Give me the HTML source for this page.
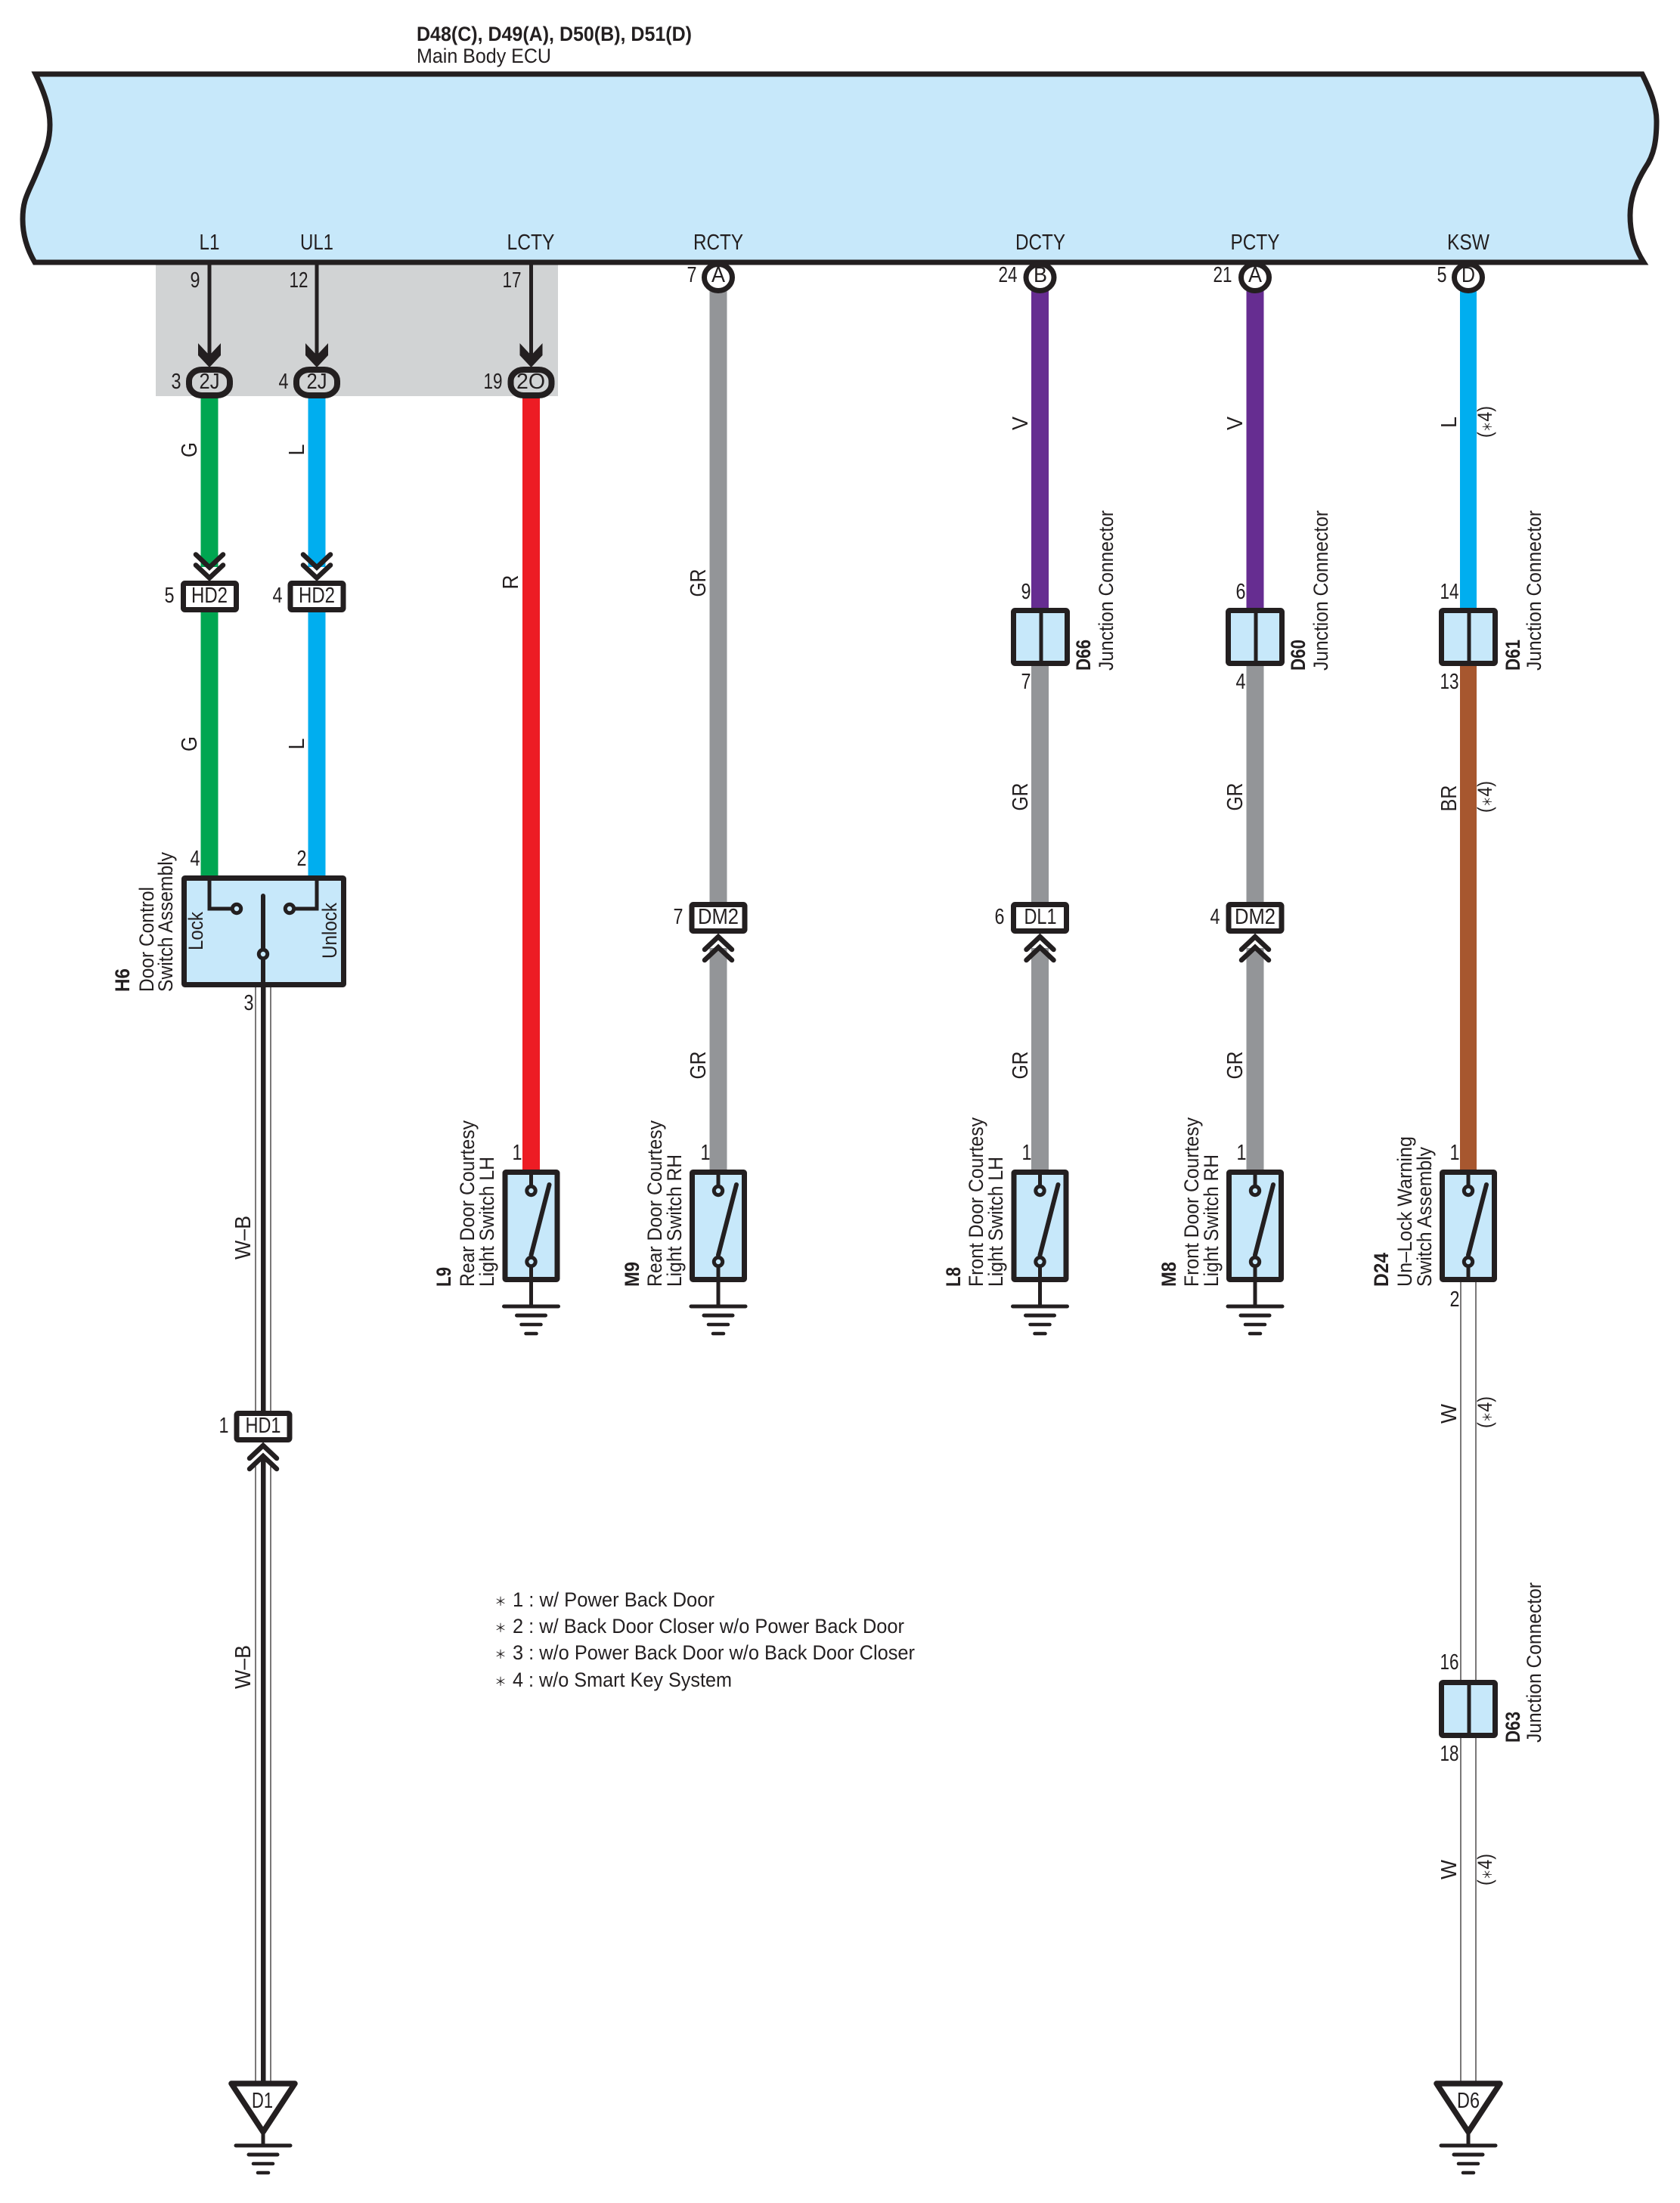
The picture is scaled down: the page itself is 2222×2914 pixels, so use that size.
<!DOCTYPE html>
<html><head><meta charset="utf-8"><title>Door Lock Wiring Diagram</title>
<style>
html,body{margin:0;padding:0;background:#fff}
svg{display:block}
text{font-family:"Liberation Sans","Noto Sans CJK JP",sans-serif;font-size:29px;fill:#231f20}
.m{text-anchor:middle}
.s{font-size:27px}
.b{font-weight:bold;font-size:27px}
.k{stroke:#231f20;fill:none}
</style></head><body>
<svg width="2222" height="2914" viewBox="0 0 2222 2914" xmlns="http://www.w3.org/2000/svg">
<defs>
<g id="box"><rect x="-35" y="-17.5" width="70" height="35" rx="2" fill="#fff" stroke="#231f20" stroke-width="7" stroke-linejoin="round"/></g>
<g id="chev" fill="none" stroke="#231f20" stroke-width="6.5" stroke-linecap="round" stroke-linejoin="miter"><path d="M-18,21 L0,4 L18,21"/><path d="M-18,35 L0,18 L18,35"/></g>
<g id="arrow"><polygon points="-15,454 0,470 15,454 15,470 0,486 -15,470" fill="#231f20"/></g>
<g id="oval"><rect x="-27" y="489" width="54" height="34" rx="17" ry="15" fill="none" stroke="#231f20" stroke-width="8"/></g>
<g id="circ"><ellipse cx="0" cy="367" rx="18.5" ry="17.5" fill="#fff" stroke="#231f20" stroke-width="7"/></g>
<g id="junc"><rect x="-35.5" y="3.5" width="71" height="70" rx="2" fill="#c7e8fa" stroke="#231f20" stroke-width="7" stroke-linejoin="round"/><line x1="1" y1="3" x2="1" y2="74" stroke="#231f20" stroke-width="5"/></g>
<g id="sw"><rect x="-34.5" y="3.5" width="69" height="142" rx="1" fill="#c7e8fa" stroke="#231f20" stroke-width="7" stroke-linejoin="round"/>
<line x1="0" y1="3" x2="0" y2="28" stroke="#231f20" stroke-width="5"/>
<line x1="0" y1="122" x2="0" y2="146" stroke="#231f20" stroke-width="5"/>
<line x1="24" y1="20" x2="0" y2="113" stroke="#231f20" stroke-width="6" stroke-linecap="round"/>
<circle cx="0" cy="28" r="5.7" fill="#c7e8fa" stroke="#231f20" stroke-width="5"/>
<circle cx="0" cy="122" r="5.7" fill="#c7e8fa" stroke="#231f20" stroke-width="5"/></g>
<g id="gnd" stroke="#231f20" stroke-linecap="round" fill="none"><line x1="-36" y1="0" x2="36" y2="0" stroke-width="5"/><line x1="-19" y1="12" x2="19" y2="12" stroke-width="5"/><line x1="-13" y1="24" x2="13" y2="24" stroke-width="4.5"/><line x1="-7" y1="36" x2="7" y2="36" stroke-width="4.5"/></g>
<g id="tri"><path d="M306,2756 L390,2756 L348,2820 Z" fill="#fff" stroke="#231f20" stroke-width="7.5" stroke-linejoin="round"/><line x1="348" y1="2820" x2="348" y2="2838" stroke="#231f20" stroke-width="5"/></g>
</defs>

<rect width="2222" height="2914" fill="#fff"/>
<rect x="206" y="350" width="532" height="174" fill="#d1d3d4"/>
<path d="M47,98 C60,125 66,145 66,165 C66,190 58,205 50,225 C38,255 30,262 30,290 C30,310 36,330 46,347 L2174,347 C2160,325 2156,305 2156,285 C2156,260 2165,240 2176,222 C2188,205 2191,185 2191,160 C2191,140 2183,120 2172,98 Z" fill="#c7e8fa" stroke="#231f20" stroke-width="7" stroke-linejoin="miter"/>

<!-- colored wires -->
<rect x="265.500" y="525" width="23" height="225" fill="#00a651"/>
<rect x="265.500" y="806" width="23" height="352" fill="#00a651"/>
<rect x="407.500" y="525" width="23" height="225" fill="#00aeef"/>
<rect x="407.500" y="806" width="23" height="352" fill="#00aeef"/>
<rect x="691" y="525" width="23" height="1023" fill="#ed1c24"/>
<rect x="938.500" y="385" width="23" height="810" fill="#939598"/>
<rect x="938.500" y="1254" width="23" height="294" fill="#939598"/>
<rect x="1364" y="385" width="23" height="420" fill="#662d91"/>
<rect x="1364" y="880" width="23" height="315" fill="#939598"/>
<rect x="1364" y="1254" width="23" height="294" fill="#939598"/>
<rect x="1648.500" y="385" width="23" height="420" fill="#662d91"/>
<rect x="1648.500" y="880" width="23" height="315" fill="#939598"/>
<rect x="1648.500" y="1254" width="23" height="294" fill="#939598"/>
<rect x="1931" y="385" width="22" height="420" fill="#00aeef"/>
<rect x="1931" y="880" width="22" height="668" fill="#a7572f"/>

<!-- thin W-B wire -->
<g stroke="#231f20" stroke-width="1.2">
<line x1="338" y1="1306" x2="338" y2="1866"/><line x1="358" y1="1306" x2="358" y2="1866"/>
<line x1="338" y1="1938" x2="338" y2="2754"/><line x1="358" y1="1938" x2="358" y2="2754"/>
<line x1="1932" y1="1696" x2="1932" y2="2222"/><line x1="1952" y1="1696" x2="1952" y2="2222"/>
<line x1="1932" y1="2298" x2="1932" y2="2756"/><line x1="1952" y1="2298" x2="1952" y2="2756"/>
</g>
<rect x="345" y="1306" width="6.500" height="560" fill="#231f20"/>
<rect x="345" y="1925" width="6.500" height="830" fill="#231f20"/>

<!-- ECU thin connections -->
<g stroke="#231f20" stroke-width="5">
<line x1="277" y1="350" x2="277" y2="470"/><line x1="419" y1="350" x2="419" y2="470"/><line x1="702.500" y1="350" x2="702.500" y2="470"/>
</g>
<use href="#arrow" x="277"/><use href="#arrow" x="419"/><use href="#arrow" x="702.500"/>
<use href="#oval" x="277"/><use href="#oval" x="419"/><use href="#oval" x="702.500"/>
<use href="#circ" x="950"/><use href="#circ" x="1375.500"/><use href="#circ" x="1660"/><use href="#circ" x="1942"/>

<!-- inline connectors -->
<use href="#box" x="277.500" y="789"/><use href="#box" x="419" y="789"/>
<g transform="translate(277 768.500) scale(1 -1)"><use href="#chev"/></g>
<g transform="translate(419 768.500) scale(1 -1)"><use href="#chev"/></g>
<use href="#box" x="348" y="1887"/><use href="#chev" x="348" y="1908"/>
<use href="#box" x="950" y="1214"/><use href="#chev" x="950" y="1235"/>
<use href="#box" x="1375.500" y="1214"/><use href="#chev" x="1375.500" y="1235"/>
<use href="#box" x="1660" y="1214"/><use href="#chev" x="1660" y="1235"/>

<!-- junctions -->
<use href="#junc" x="1376" y="804"/><use href="#junc" x="1660" y="804"/><use href="#junc" x="1942" y="804"/><use href="#junc" x="1942" y="2222"/>

<!-- H6 switch -->
<rect x="243.500" y="1161.500" width="211" height="141" rx="1" fill="#c7e8fa" stroke="#231f20" stroke-width="7" stroke-linejoin="round"/>
<path d="M277,1160 L277,1202 L307,1202 M419,1160 L419,1202 L389,1202" class="k" stroke-width="5"/>
<line x1="348" y1="1185" x2="348" y2="1306" stroke="#231f20" stroke-width="6" stroke-linecap="round"/>
<circle cx="313" cy="1202" r="5.700" fill="#c7e8fa" stroke="#231f20" stroke-width="5"/>
<circle cx="383" cy="1202" r="5.700" fill="#c7e8fa" stroke="#231f20" stroke-width="5"/>
<circle cx="348" cy="1262" r="5.700" fill="#c7e8fa" stroke="#231f20" stroke-width="5"/>

<!-- courtesy switches -->
<use href="#sw" x="702.500" y="1547"/><line x1="702.500" y1="1696" x2="702.500" y2="1728" stroke="#231f20" stroke-width="5"/><use href="#gnd" x="702.500" y="1728"/>
<use href="#sw" x="950" y="1547"/><line x1="950" y1="1696" x2="950" y2="1728" stroke="#231f20" stroke-width="5"/><use href="#gnd" x="950" y="1728"/>
<use href="#sw" x="1375.500" y="1547"/><line x1="1375.500" y1="1696" x2="1375.500" y2="1728" stroke="#231f20" stroke-width="5"/><use href="#gnd" x="1375.500" y="1728"/>
<use href="#sw" x="1660" y="1547"/><line x1="1660" y1="1696" x2="1660" y2="1728" stroke="#231f20" stroke-width="5"/><use href="#gnd" x="1660" y="1728"/>
<use href="#sw" x="1942" y="1547"/>

<!-- grounds -->
<use href="#tri"/><use href="#gnd" x="348" y="2838"/>
<g transform="translate(1594 0)"><use href="#tri"/></g><use href="#gnd" x="1942" y="2838"/>

<!-- header -->
<text x="551" y="54" class="b" textLength="364" lengthAdjust="spacingAndGlyphs">D48(C), D49(A), D50(B), D51(D)</text>
<text x="551" y="83" class="s" textLength="178" lengthAdjust="spacingAndGlyphs">Main Body ECU</text>

<!-- ECU pin names -->
<text x="277" y="330" class="m" textLength="27" lengthAdjust="spacingAndGlyphs">L1</text>
<text x="419" y="330" class="m" textLength="44" lengthAdjust="spacingAndGlyphs">UL1</text>
<text x="702" y="330" class="m" textLength="63" lengthAdjust="spacingAndGlyphs">LCTY</text>
<text x="950" y="330" class="m" textLength="66" lengthAdjust="spacingAndGlyphs">RCTY</text>
<text x="1376" y="330" class="m" textLength="66" lengthAdjust="spacingAndGlyphs">DCTY</text>
<text x="1660" y="330" class="m" textLength="65" lengthAdjust="spacingAndGlyphs">PCTY</text>
<text x="1942" y="330" class="m" textLength="56" lengthAdjust="spacingAndGlyphs">KSW</text>

<!-- pin numbers -->
<text x="258" y="380" class="m" textLength="13" lengthAdjust="spacingAndGlyphs">9</text>
<text x="395" y="380" class="m" textLength="25" lengthAdjust="spacingAndGlyphs">12</text>
<text x="677" y="380" class="m" textLength="25" lengthAdjust="spacingAndGlyphs">17</text>
<text x="915" y="373" class="m" textLength="13" lengthAdjust="spacingAndGlyphs">7</text>
<text x="1333" y="373" class="m" textLength="25" lengthAdjust="spacingAndGlyphs">24</text>
<text x="1617" y="373" class="m" textLength="25" lengthAdjust="spacingAndGlyphs">21</text>
<text x="1907" y="373" class="m" textLength="13" lengthAdjust="spacingAndGlyphs">5</text>
<text x="233" y="514" class="m" textLength="13" lengthAdjust="spacingAndGlyphs">3</text>
<text x="375" y="514" class="m" textLength="13" lengthAdjust="spacingAndGlyphs">4</text>
<text x="652" y="514" class="m" textLength="25" lengthAdjust="spacingAndGlyphs">19</text>
<text x="277" y="514" class="m" textLength="27" lengthAdjust="spacingAndGlyphs">2J</text>
<text x="419" y="514" class="m" textLength="27" lengthAdjust="spacingAndGlyphs">2J</text>
<text x="702" y="514" class="m" textLength="38" lengthAdjust="spacingAndGlyphs">2O</text>
<text x="950" y="373" class="m" textLength="18" lengthAdjust="spacingAndGlyphs">A</text>
<text x="1376" y="373" class="m" textLength="18" lengthAdjust="spacingAndGlyphs">B</text>
<text x="1660" y="373" class="m" textLength="18" lengthAdjust="spacingAndGlyphs">A</text>
<text x="1942" y="373" class="m" textLength="18" lengthAdjust="spacingAndGlyphs">D</text>

<text x="224" y="797" class="m" textLength="13" lengthAdjust="spacingAndGlyphs">5</text>
<text x="367" y="797" class="m" textLength="13" lengthAdjust="spacingAndGlyphs">4</text>
<text x="277" y="797" class="m" textLength="48" lengthAdjust="spacingAndGlyphs">HD2</text>
<text x="419" y="797" class="m" textLength="48" lengthAdjust="spacingAndGlyphs">HD2</text>
<text x="296" y="1895" class="m" textLength="13" lengthAdjust="spacingAndGlyphs">1</text>
<text x="348" y="1895" class="m" textLength="47" lengthAdjust="spacingAndGlyphs">HD1</text>
<text x="897" y="1222" class="m" textLength="13" lengthAdjust="spacingAndGlyphs">7</text>
<text x="950" y="1222" class="m" textLength="54" lengthAdjust="spacingAndGlyphs">DM2</text>
<text x="1322" y="1222" class="m" textLength="13" lengthAdjust="spacingAndGlyphs">6</text>
<text x="1376" y="1222" class="m" textLength="43" lengthAdjust="spacingAndGlyphs">DL1</text>
<text x="1607" y="1222" class="m" textLength="13" lengthAdjust="spacingAndGlyphs">4</text>
<text x="1660" y="1222" class="m" textLength="54" lengthAdjust="spacingAndGlyphs">DM2</text>

<text x="1357" y="792" class="m" textLength="13" lengthAdjust="spacingAndGlyphs">9</text>
<text x="1357" y="911" class="m" textLength="13" lengthAdjust="spacingAndGlyphs">7</text>
<text x="1641" y="792" class="m" textLength="13" lengthAdjust="spacingAndGlyphs">6</text>
<text x="1641" y="911" class="m" textLength="13" lengthAdjust="spacingAndGlyphs">4</text>
<text x="1917" y="792" class="m" textLength="25" lengthAdjust="spacingAndGlyphs">14</text>
<text x="1917" y="911" class="m" textLength="25" lengthAdjust="spacingAndGlyphs">13</text>
<text x="1917" y="2208" class="m" textLength="25" lengthAdjust="spacingAndGlyphs">16</text>
<text x="1917" y="2329" class="m" textLength="25" lengthAdjust="spacingAndGlyphs">18</text>

<text x="258" y="1145" class="m" textLength="13" lengthAdjust="spacingAndGlyphs">4</text>
<text x="399" y="1145" class="m" textLength="13" lengthAdjust="spacingAndGlyphs">2</text>
<text x="329" y="1336" class="m" textLength="13" lengthAdjust="spacingAndGlyphs">3</text>
<text x="684" y="1534" class="m" textLength="13" lengthAdjust="spacingAndGlyphs">1</text>
<text x="933" y="1534" class="m" textLength="13" lengthAdjust="spacingAndGlyphs">1</text>
<text x="1358" y="1534" class="m" textLength="13" lengthAdjust="spacingAndGlyphs">1</text>
<text x="1642" y="1534" class="m" textLength="13" lengthAdjust="spacingAndGlyphs">1</text>
<text x="1924" y="1534" class="m" textLength="13" lengthAdjust="spacingAndGlyphs">1</text>
<text x="1924" y="1728" class="m" textLength="13" lengthAdjust="spacingAndGlyphs">2</text>

<!-- ground labels -->
<text x="347" y="2788" class="m" textLength="28" lengthAdjust="spacingAndGlyphs">D1</text>
<text x="1942" y="2788" class="m" textLength="30" lengthAdjust="spacingAndGlyphs">D6</text>

<!-- H6 labels -->
<text transform="translate(171 1312) rotate(-90)" class="b" textLength="31" lengthAdjust="spacingAndGlyphs">H6</text>
<text transform="translate(203 1312) rotate(-90)" class="s" textLength="139" lengthAdjust="spacingAndGlyphs">Door Control</text>
<text transform="translate(228 1312) rotate(-90)" class="s" textLength="185" lengthAdjust="spacingAndGlyphs">Switch Assembly</text>
<text transform="translate(268 1257) rotate(-90)" class="s" textLength="51" lengthAdjust="spacingAndGlyphs">Lock</text>
<text transform="translate(445 1268) rotate(-90)" class="s" textLength="74" lengthAdjust="spacingAndGlyphs">Unlock</text>

<!-- switch labels -->
<text transform="translate(596 1702) rotate(-90)" class="b" textLength="26" lengthAdjust="spacingAndGlyphs">L9</text>
<text transform="translate(627 1702) rotate(-90)" class="s" textLength="220" lengthAdjust="spacingAndGlyphs">Rear Door Courtesy</text>
<text transform="translate(653 1702) rotate(-90)" class="s" textLength="172" lengthAdjust="spacingAndGlyphs">Light Switch LH</text>
<text transform="translate(845 1702) rotate(-90)" class="b" textLength="33" lengthAdjust="spacingAndGlyphs">M9</text>
<text transform="translate(875 1702) rotate(-90)" class="s" textLength="220" lengthAdjust="spacingAndGlyphs">Rear Door Courtesy</text>
<text transform="translate(901 1702) rotate(-90)" class="s" textLength="175" lengthAdjust="spacingAndGlyphs">Light Switch RH</text>
<text transform="translate(1270 1702) rotate(-90)" class="b" textLength="26" lengthAdjust="spacingAndGlyphs">L8</text>
<text transform="translate(1300 1702) rotate(-90)" class="s" textLength="224" lengthAdjust="spacingAndGlyphs">Front Door Courtesy</text>
<text transform="translate(1326 1702) rotate(-90)" class="s" textLength="172" lengthAdjust="spacingAndGlyphs">Light Switch LH</text>
<text transform="translate(1555 1702) rotate(-90)" class="b" textLength="33" lengthAdjust="spacingAndGlyphs">M8</text>
<text transform="translate(1585 1702) rotate(-90)" class="s" textLength="224" lengthAdjust="spacingAndGlyphs">Front Door Courtesy</text>
<text transform="translate(1611 1702) rotate(-90)" class="s" textLength="175" lengthAdjust="spacingAndGlyphs">Light Switch RH</text>
<text transform="translate(1836 1702) rotate(-90)" class="b" textLength="45" lengthAdjust="spacingAndGlyphs">D24</text>
<text transform="translate(1867 1702) rotate(-90)" class="s" textLength="199" lengthAdjust="spacingAndGlyphs">Un–Lock Warning</text>
<text transform="translate(1893 1702) rotate(-90)" class="s" textLength="185" lengthAdjust="spacingAndGlyphs">Switch Assembly</text>

<!-- junction labels -->
<text transform="translate(1442 887) rotate(-90)" class="b" textLength="41" lengthAdjust="spacingAndGlyphs">D66</text>
<text transform="translate(1472 887) rotate(-90)" class="s" textLength="212" lengthAdjust="spacingAndGlyphs">Junction Connector</text>
<text transform="translate(1726 887) rotate(-90)" class="b" textLength="41" lengthAdjust="spacingAndGlyphs">D60</text>
<text transform="translate(1756 887) rotate(-90)" class="s" textLength="212" lengthAdjust="spacingAndGlyphs">Junction Connector</text>
<text transform="translate(2010 887) rotate(-90)" class="b" textLength="41" lengthAdjust="spacingAndGlyphs">D61</text>
<text transform="translate(2038 887) rotate(-90)" class="s" textLength="212" lengthAdjust="spacingAndGlyphs">Junction Connector</text>
<text transform="translate(2010 2305) rotate(-90)" class="b" textLength="41" lengthAdjust="spacingAndGlyphs">D63</text>
<text transform="translate(2038 2305) rotate(-90)" class="s" textLength="212" lengthAdjust="spacingAndGlyphs">Junction Connector</text>

<!-- wire colour labels -->
<text transform="translate(260 595) rotate(-90)" class="m" textLength="20" lengthAdjust="spacingAndGlyphs">G</text>
<text transform="translate(260 984) rotate(-90)" class="m" textLength="20" lengthAdjust="spacingAndGlyphs">G</text>
<text transform="translate(402 595) rotate(-90)" class="m" textLength="15" lengthAdjust="spacingAndGlyphs">L</text>
<text transform="translate(402 984) rotate(-90)" class="m" textLength="15" lengthAdjust="spacingAndGlyphs">L</text>
<text transform="translate(685 770) rotate(-90)" class="m" textLength="19" lengthAdjust="spacingAndGlyphs">R</text>
<text transform="translate(933 771) rotate(-90)" class="m" textLength="37" lengthAdjust="spacingAndGlyphs">GR</text>
<text transform="translate(933 1409) rotate(-90)" class="m" textLength="37" lengthAdjust="spacingAndGlyphs">GR</text>
<text transform="translate(1359 560) rotate(-90)" class="m" textLength="18" lengthAdjust="spacingAndGlyphs">V</text>
<text transform="translate(1359 1054) rotate(-90)" class="m" textLength="37" lengthAdjust="spacingAndGlyphs">GR</text>
<text transform="translate(1359 1409) rotate(-90)" class="m" textLength="37" lengthAdjust="spacingAndGlyphs">GR</text>
<text transform="translate(1643 560) rotate(-90)" class="m" textLength="18" lengthAdjust="spacingAndGlyphs">V</text>
<text transform="translate(1643 1054) rotate(-90)" class="m" textLength="37" lengthAdjust="spacingAndGlyphs">GR</text>
<text transform="translate(1643 1409) rotate(-90)" class="m" textLength="37" lengthAdjust="spacingAndGlyphs">GR</text>
<text transform="translate(1926 558.500) rotate(-90)" class="m" textLength="15" lengthAdjust="spacingAndGlyphs">L</text>
<text transform="translate(1926 1056) rotate(-90)" class="m" textLength="35" lengthAdjust="spacingAndGlyphs">BR</text>
<text transform="translate(1926 1870) rotate(-90)" class="m" textLength="26" lengthAdjust="spacingAndGlyphs">W</text>
<text transform="translate(1926 2473) rotate(-90)" class="m" textLength="26" lengthAdjust="spacingAndGlyphs">W</text>
<text transform="translate(331 1637) rotate(-90)" class="m" textLength="58" lengthAdjust="spacingAndGlyphs">W–B</text>
<text transform="translate(331 2205) rotate(-90)" class="m" textLength="58" lengthAdjust="spacingAndGlyphs">W–B</text>
<text transform="translate(1973 558) rotate(-90)" class="m s" textLength="42" lengthAdjust="spacingAndGlyphs">(<tspan font-size="16">＊</tspan>4)</text>
<text transform="translate(1973 1054) rotate(-90)" class="m s" textLength="42" lengthAdjust="spacingAndGlyphs">(<tspan font-size="16">＊</tspan>4)</text>
<text transform="translate(1973 1868) rotate(-90)" class="m s" textLength="42" lengthAdjust="spacingAndGlyphs">(<tspan font-size="16">＊</tspan>4)</text>
<text transform="translate(1973 2473) rotate(-90)" class="m s" textLength="42" lengthAdjust="spacingAndGlyphs">(<tspan font-size="16">＊</tspan>4)</text>

<!-- legend -->
<text x="662" y="2124" class="m" style="font-size:16px">＊</text>
<text x="662" y="2159" class="m" style="font-size:16px">＊</text>
<text x="662" y="2194" class="m" style="font-size:16px">＊</text>
<text x="662" y="2230" class="m" style="font-size:16px">＊</text>
<text x="678" y="2125" class="s" textLength="267" lengthAdjust="spacingAndGlyphs">1 : w/ Power Back Door</text>
<text x="678" y="2160" class="s" textLength="518" lengthAdjust="spacingAndGlyphs">2 : w/ Back Door Closer w/o Power Back Door</text>
<text x="678" y="2195" class="s" textLength="532" lengthAdjust="spacingAndGlyphs">3 : w/o Power Back Door w/o Back Door Closer</text>
<text x="678" y="2231" class="s" textLength="290" lengthAdjust="spacingAndGlyphs">4 : w/o Smart Key System</text>
</svg>
</body></html>
